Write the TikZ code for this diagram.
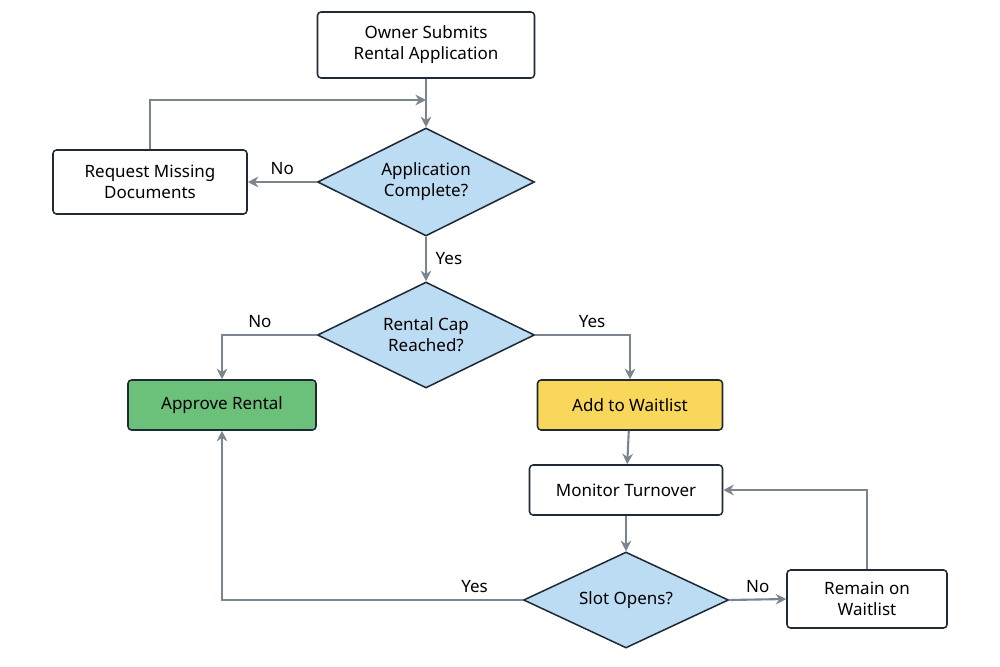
\documentclass[tikz,border=0pt]{standalone}
\usepackage{fontspec}
\setmainfont{Noto Sans}
\usetikzlibrary{shapes.geometric,arrows.meta}
\definecolor{edge}{HTML}{1F2A36}
\definecolor{arr}{HTML}{7B8590}
\definecolor{dfill}{HTML}{BCDCF4}
\definecolor{gfill}{HTML}{6CC17A}
\definecolor{yfill}{HTML}{F9D75A}
\begin{document}
\begin{tikzpicture}[x=0.03cm,y=-0.03cm,
  font=\fontsize{14.5}{18}\selectfont,
  box/.style={draw=edge,line width=1.3pt,rounded corners=3pt,fill=white,align=center,inner sep=0pt},
  dia/.style={diamond,draw=edge,line width=1.3pt,fill=dfill,align=center,inner sep=0pt,aspect=2},
  ar/.style={draw=arr,line width=1.8pt,-{Stealth[length=9pt,width=9pt]}},
  lab/.style={font=\fontsize{14.5}{18}\selectfont}]
\useasboundingbox (0,0) rectangle (1000,667);
\node[box,minimum width=217*0.03cm,minimum height=66*0.03cm] (owner) at (426,45) {Owner Submits\\Rental Application};
\node[box,minimum width=194*0.03cm,minimum height=64*0.03cm] (req) at (150,182) {Request Missing\\Documents};
\node[dia,minimum width=217*0.03cm,minimum height=108*0.03cm] (app) at (426,182) {Application\\Complete?};
\node[dia,minimum width=217*0.03cm,minimum height=106*0.03cm] (cap) at (426,335) {Rental Cap\\Reached?};
\node[box,fill=gfill,minimum width=188*0.03cm,minimum height=50*0.03cm] (appr) at (222,405) {Approve Rental};
\node[box,fill=yfill,minimum width=185*0.03cm,minimum height=50*0.03cm] (wait) at (630,405) {Add to Waitlist};
\node[box,minimum width=193*0.03cm,minimum height=50*0.03cm] (mon) at (626,490) {Monitor Turnover};
\node[dia,minimum width=205*0.03cm,minimum height=96*0.03cm] (slot) at (626,600) {Slot Opens?};
\node[box,minimum width=160*0.03cm,minimum height=58*0.03cm] (rem) at (867,599) {Remain on\\Waitlist};
\coordinate (j1) at (426,100);
\draw[ar] (owner) -- (app);
\draw[ar] (req.north) |- (j1);
\draw[ar] (app.west) -- (req.east) node[lab,midway,above=2pt] {No};
\draw[ar] (app.south) -- (cap.north) node[lab,midway,right=4pt] {Yes};
\draw[ar] (cap.west) -| (appr.north) node[lab,pos=0.3,above=2pt] {No};
\draw[ar] (cap.east) -| (wait.north) node[lab,pos=0.3,above=2pt] {Yes};
\draw[ar] (wait) -- (mon);
\draw[ar] (mon) -- (slot);
\draw[ar] (slot.west) -| (appr.south) node[lab,pos=0.08,above=2pt] {Yes};
\draw[ar] (slot.east) -- (rem.west) node[lab,midway,above=2pt] {No};
\draw[ar] (rem.north) |- (mon.east);
\end{tikzpicture}
\end{document}
